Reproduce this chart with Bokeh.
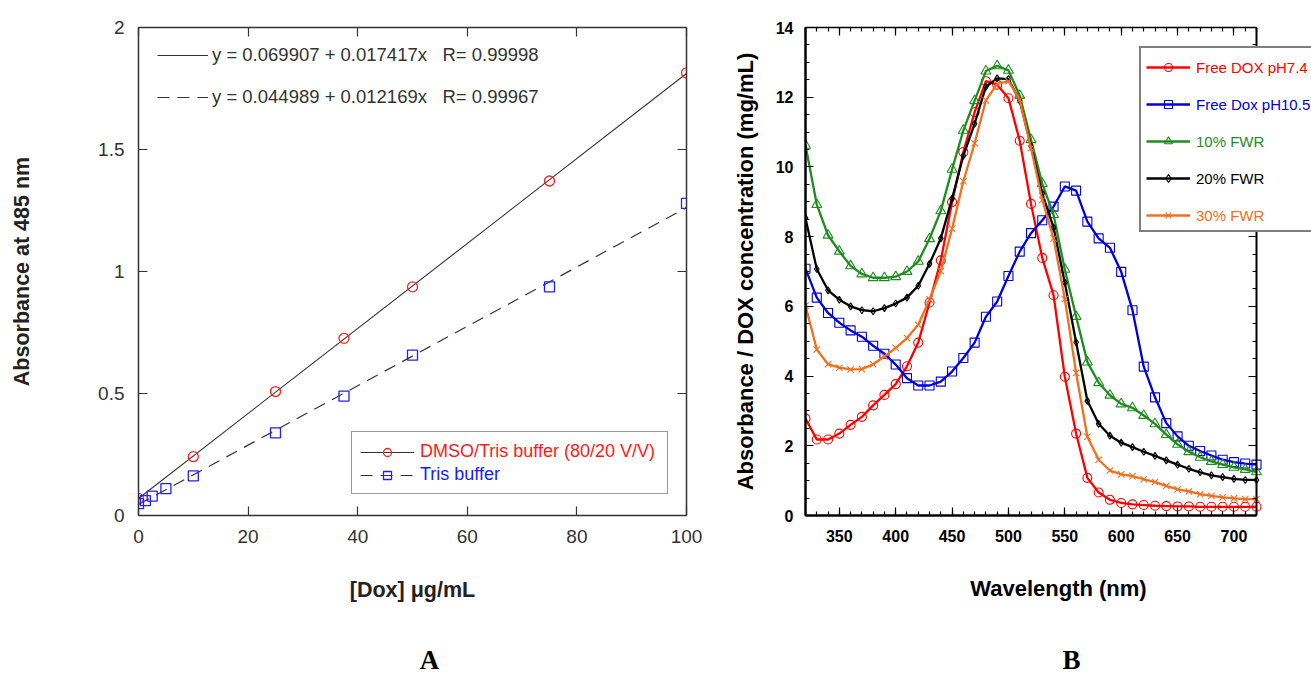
from bokeh.plotting import figure
from bokeh.models import (Range1d, LinearAxis, FixedTicker, CustomJSTickFormatter,
                          Legend, LegendItem, Label)
from bokeh.layouts import row, column
from bokeh.embed import file_html
from bokeh.resources import INLINE

# ---------------- Panel A data ----------------
conc_dmso = [0, 10, 25, 37.5, 50, 75, 100]
abs_dmso = [0.07, 0.241, 0.508, 0.726, 0.937, 1.371, 1.814]
conc_tris = [0, 1.25, 2.5, 5, 10, 25, 37.5, 50, 75, 100]
abs_tris = [0.049, 0.061, 0.079, 0.11, 0.162, 0.339, 0.489, 0.657, 0.937, 1.279]
fit_dmso_intercept, fit_dmso_slope = 0.069907, 0.017417
fit_tris_intercept, fit_tris_slope = 0.044989, 0.012169
fit_x = [0, 100]
eq_dmso = "y = 0.069907 + 0.017417x\u00a0\u00a0\u00a0R= 0.99998"
eq_tris = "y = 0.044989 + 0.012169x\u00a0\u00a0\u00a0R= 0.99967"
label_dmso = "DMSO/Tris buffer (80/20 V/V)"
label_tris = "Tris buffer"
a_xticks = [0, 20, 40, 60, 80, 100]
a_yticks = [0, 0.5, 1, 1.5, 2]

# ---------------- Panel B data ----------------
wavelength = [320, 330, 340, 350, 360, 370, 380, 390, 400, 410, 420, 430,
              440, 450, 460, 470, 480, 490, 500, 510, 520, 530, 540, 550,
              560, 570, 580, 590, 600, 610, 620, 630, 640, 650, 660, 670,
              680, 690, 700, 710, 720]
free_dox_74 = [2.78, 2.18, 2.18, 2.35, 2.6, 2.83, 3.16, 3.46, 3.77, 4.28, 4.96, 6.11,
               7.32, 8.99, 10.43, 11.57, 12.46, 12.36, 11.97, 10.75, 8.94, 7.39, 6.32, 3.98,
               2.35, 1.08, 0.66, 0.45, 0.36, 0.32, 0.3, 0.28, 0.27, 0.26, 0.26, 0.25,
               0.25, 0.25, 0.25, 0.25, 0.25]
free_dox_105 = [7.08, 6.25, 5.81, 5.53, 5.31, 5.13, 4.87, 4.64, 4.33, 3.94, 3.73, 3.73,
                3.84, 4.13, 4.52, 4.96, 5.7, 6.14, 6.87, 7.57, 8.1, 8.47, 8.86, 9.44,
                9.32, 8.43, 7.95, 7.68, 6.99, 5.89, 4.27, 3.39, 2.65, 2.27, 2.0, 1.85,
                1.72, 1.6, 1.53, 1.49, 1.46]
fwr_10 = [10.62, 8.92, 8.04, 7.58, 7.16, 6.93, 6.82, 6.82, 6.85, 7.0, 7.29, 7.94,
          8.74, 9.93, 11.05, 11.9, 12.75, 12.9, 12.77, 12.05, 10.78, 9.52, 8.63, 7.06,
          5.71, 4.4, 3.81, 3.45, 3.2, 3.09, 2.87, 2.63, 2.32, 2.04, 1.83, 1.67,
          1.55, 1.46, 1.38, 1.32, 1.25]
fwr_20 = [8.53, 7.07, 6.46, 6.19, 6.0, 5.89, 5.86, 5.95, 6.08, 6.25, 6.59, 7.22,
          7.95, 9.09, 10.32, 11.24, 12.3, 12.54, 12.52, 11.9, 10.6, 9.24, 8.26, 6.68,
          4.97, 3.29, 2.63, 2.29, 2.09, 1.96, 1.83, 1.71, 1.58, 1.46, 1.34, 1.24,
          1.15, 1.1, 1.05, 1.02, 1.02]
fwr_30 = [6.02, 4.76, 4.34, 4.24, 4.19, 4.2, 4.34, 4.56, 4.81, 5.09, 5.47, 6.2,
          7.01, 8.23, 9.59, 10.68, 11.91, 12.38, 12.46, 11.93, 10.54, 9.05, 7.95, 6.21,
          4.09, 2.26, 1.6, 1.29, 1.18, 1.13, 1.04, 0.96, 0.85, 0.75, 0.69, 0.61,
          0.56, 0.52, 0.49, 0.47, 0.47]
series_names = ["Free DOX pH7.4", "Free Dox pH10.5", "10% FWR", "20% FWR", "30% FWR"]
series_values = [free_dox_74, free_dox_105, fwr_10, fwr_20, fwr_30]
b_xlim = (320, 720)
b_xticks = [350, 400, 450, 500, 550, 600, 650, 700]
b_xminor = list(range(320, 721, 10))
b_yticks = [0, 2, 4, 6, 8, 10, 12, 14]
b_yminor = [i * 0.5 for i in range(29)]
panel_letters = ["A", "B"]

# ---------------- styles ----------------
SANS = "Liberation Sans"
SERIF = "Liberation Serif"
GRAY = "#333333"
series_colors = ["#FF0000", "#0000DD", "#1E8C1E", "#000000", "#F07020"]
series_markers = ["circle", "square", "triangle", "diamond", "x"]
series_sizes = [9, 9, 10, 7, 9]
PLOT_H = 630


def tick_only_axis(ticker, color, lw, tick_in=0, minor_in=0, tick_out=0, minor_out=0, **kw):
    return LinearAxis(ticker=ticker, formatter=CustomJSTickFormatter(code="return ''"),
                      major_label_text_font_size="1px", major_label_standoff=0,
                      major_tick_in=tick_in, major_tick_out=tick_out,
                      minor_tick_in=minor_in, minor_tick_out=minor_out,
                      axis_line_color=color, axis_line_width=lw,
                      major_tick_line_color=color, minor_tick_line_color=color,
                      major_tick_line_width=1.2, minor_tick_line_width=1.2, **kw)


def text_item(p, text, x, y_center, color, font, size, renderers, glyph_width, standoff, h=20):
    """A borderless one-item legend, so that each legend entry has its own text colour."""
    leg = Legend(items=[LegendItem(label=text, renderers=renderers)],
                 location=(x, y_center - h / 2), padding=0, margin=0, spacing=0,
                 glyph_width=glyph_width, glyph_height=h, label_height=h,
                 label_standoff=standoff, label_text_color=color, label_text_font=font,
                 label_text_font_size=size, border_line_color=None, background_fill_alpha=0)
    p.add_layout(leg)


# ================= Panel A =================
p1 = figure(width=720, height=PLOT_H, x_range=Range1d(0, 100), y_range=Range1d(0, 2),
            output_backend="svg", toolbar_location=None,
            min_border_left=138, min_border_right=34, min_border_top=27,
            min_border_bottom=PLOT_H - 517)
p1.grid.visible = False
p1.outline_line_color = None

xa = p1.below[0]
ya = p1.left[0]
xa.ticker = FixedTicker(ticks=a_xticks)
ya.ticker = FixedTicker(ticks=a_yticks)
ya.formatter = CustomJSTickFormatter(code="return tick.toString()")
for ax in (xa, ya):
    ax.axis_line_color = GRAY
    ax.axis_line_width = 1.5
    ax.major_tick_in = 9
    ax.major_tick_out = 0
    ax.minor_tick_line_color = None
    ax.major_tick_line_color = GRAY
    ax.major_tick_line_width = 1.2
    ax.major_label_text_font = SANS
    ax.major_label_text_font_size = "19px"
    ax.major_label_text_color = GRAY
    ax.axis_label_text_font = SANS
    ax.axis_label_text_font_size = "21.5px"
    ax.axis_label_text_font_style = "bold"
    ax.axis_label_text_color = "#222222"
xa.axis_label = "[Dox] \u03bcg/mL"
ya.axis_label = "Absorbance at 485 nm"
xa.major_label_standoff = 14
xa.axis_label_standoff = 32
ya.major_label_standoff = 14
ya.axis_label_standoff = 61
p1.add_layout(tick_only_axis(FixedTicker(ticks=a_xticks), GRAY, 1.5, tick_in=9), "above")
p1.add_layout(tick_only_axis(FixedTicker(ticks=a_yticks), GRAY, 1.5, tick_in=9), "right")

fit1 = p1.line(fit_x, [fit_dmso_intercept + fit_dmso_slope * x for x in fit_x],
               line_color=GRAY, line_width=1.1)
fit2 = p1.line(fit_x, [fit_tris_intercept + fit_tris_slope * x for x in fit_x],
               line_color=GRAY, line_width=1.2, line_dash="12 8")
sc1 = p1.scatter(conc_dmso, abs_dmso, marker="circle", size=10, fill_color=None,
                 line_color="#FF2020", line_width=1.3)
sc2 = p1.scatter(conc_tris, abs_tris, marker="square", size=10, fill_color=None,
                 line_color="#2020FF", line_width=1.3)

eq_legend = Legend(items=[LegendItem(label=eq_dmso, renderers=[fit1]),
                          LegendItem(label=eq_tris, renderers=[fit2])],
                   location=(19, 407), padding=0, spacing=20, glyph_height=20, glyph_width=51,
                   label_standoff=4, label_text_font=SANS, label_text_font_size="18.5px",
                   label_text_color=GRAY, border_line_color=None, background_fill_alpha=0,
                   margin=0)
p1.add_layout(eq_legend)

dummy_a = p1.line(x=[], y=[], line_alpha=0)
box_a = Legend(items=[LegendItem(label="\u00a0", renderers=[dummy_a]),
                      LegendItem(label="\u00a0", renderers=[dummy_a])],
               location=(213, 21), padding=9, spacing=3, glyph_height=20, glyph_width=54,
               label_standoff=6, label_width=237, label_height=20, label_text_font_size="16px",
               border_line_color=GRAY, border_line_width=1.5, background_fill_color="white",
               background_fill_alpha=1, margin=0)
p1.add_layout(box_a)
text_item(p1, label_dmso, 222, 63, "#FF1A1A", SANS, "18px", [fit1, sc1], 54, 6)
text_item(p1, label_tris, 222, 40, "#1A1AFF", SANS, "18px", [fit2, sc2], 54, 6)

# ================= Panel B =================
# the frame runs on to the page edge so that the legend may overhang the right axis
b_px_per_nm = 451 / (b_xlim[1] - b_xlim[0])
b_x_end = b_xlim[1] + 55 / b_px_per_nm
p2 = figure(width=591, height=PLOT_H, x_range=Range1d(b_xlim[0], b_x_end),
            y_range=Range1d(0, 14), output_backend="svg", toolbar_location=None,
            min_border_left=85, min_border_right=0, min_border_top=19,
            min_border_bottom=PLOT_H - 515)
p2.grid.visible = False
p2.outline_line_color = None
xb = p2.below[0]
yb = p2.left[0]
xb.ticker = FixedTicker(ticks=b_xticks, minor_ticks=b_xminor)
xb.bounds = b_xlim
yb.ticker = FixedTicker(ticks=b_yticks, minor_ticks=b_yminor)
for ax in (xb, yb):
    ax.axis_line_color = "black"
    ax.axis_line_width = 2.5
    ax.major_tick_in = 8
    ax.major_tick_out = 0
    ax.minor_tick_in = 4
    ax.minor_tick_out = 0
    ax.major_tick_line_color = "black"
    ax.minor_tick_line_color = "black"
    ax.major_tick_line_width = 1.2
    ax.minor_tick_line_width = 1.2
    ax.major_label_text_font = SANS
    ax.major_label_text_font_size = "16px"
    ax.major_label_text_font_style = "bold"
    ax.major_label_text_color = "black"
    ax.axis_label_text_font = SANS
    ax.axis_label_text_font_size = "22px"
    ax.axis_label_text_font_style = "bold"
    ax.axis_label_text_color = "black"
xb.axis_label = "Wavelength (nm)"
yb.axis_label = "Absorbance / DOX concentration (mg/mL)"
xb.major_label_standoff = 14
xb.axis_label_standoff = 31
yb.major_label_standoff = 12
yb.axis_label_standoff = 15
p2.add_layout(tick_only_axis(FixedTicker(ticks=b_xticks, minor_ticks=b_xminor), "black", 1.5,
                             tick_in=8, minor_in=4, bounds=b_xlim), "above")
# right-hand frame side at 720 nm, ticks pointing into the plot
p2.add_layout(tick_only_axis(FixedTicker(ticks=b_yticks, minor_ticks=b_yminor), "black", 2,
                             tick_out=8, minor_out=4, fixed_location=b_xlim[1]), "left")

renderers_b = []
for name, vals, col, mk, sz in zip(series_names, series_values, series_colors,
                                   series_markers, series_sizes):
    ln = p2.line(wavelength, vals, line_color=col, line_width=2.3)
    sc = p2.scatter(wavelength, vals, marker=mk, size=sz, fill_color=None,
                    line_color=col, line_width=1.1)
    renderers_b.append([ln, sc])

dummy_b = p2.line(x=[], y=[], line_alpha=0)
box_b = Legend(items=[LegendItem(label="\u00a0", renderers=[dummy_b]) for _ in series_names],
               location=(334, 283), padding=7, spacing=17, glyph_height=20, glyph_width=44,
               label_standoff=6, label_width=130, label_height=20, label_text_font_size="15px",
               border_line_color="black", border_line_width=2.5, background_fill_color="white",
               background_fill_alpha=1, margin=0)
p2.add_layout(box_b)
for i, (name, col, rs) in enumerate(zip(series_names, series_colors, renderers_b)):
    text_item(p2, name, 341, 448 - 37 * i, col, SANS, "15px", rs, 44, 6)

# ================= panel letters strip =================
STRIP_H = 675 - PLOT_H
strip = figure(width=1311, height=STRIP_H, x_range=Range1d(0, 1311), y_range=Range1d(0, STRIP_H),
               output_backend="svg", toolbar_location=None, x_axis_type=None, y_axis_type=None,
               min_border=0)
strip.grid.visible = False
strip.outline_line_color = None
for letter, cx in zip(panel_letters, [429, 1071]):
    strip.add_layout(Label(x=cx, y=16, x_units="screen", y_units="screen", text=letter,
                           text_font=SERIF, text_font_size="27px", text_font_style="bold",
                           text_color="black", text_align="center", text_baseline="middle"))

layout = column(row(p1, p2), strip)
open("out.html", "w").write(file_html(layout, INLINE))
